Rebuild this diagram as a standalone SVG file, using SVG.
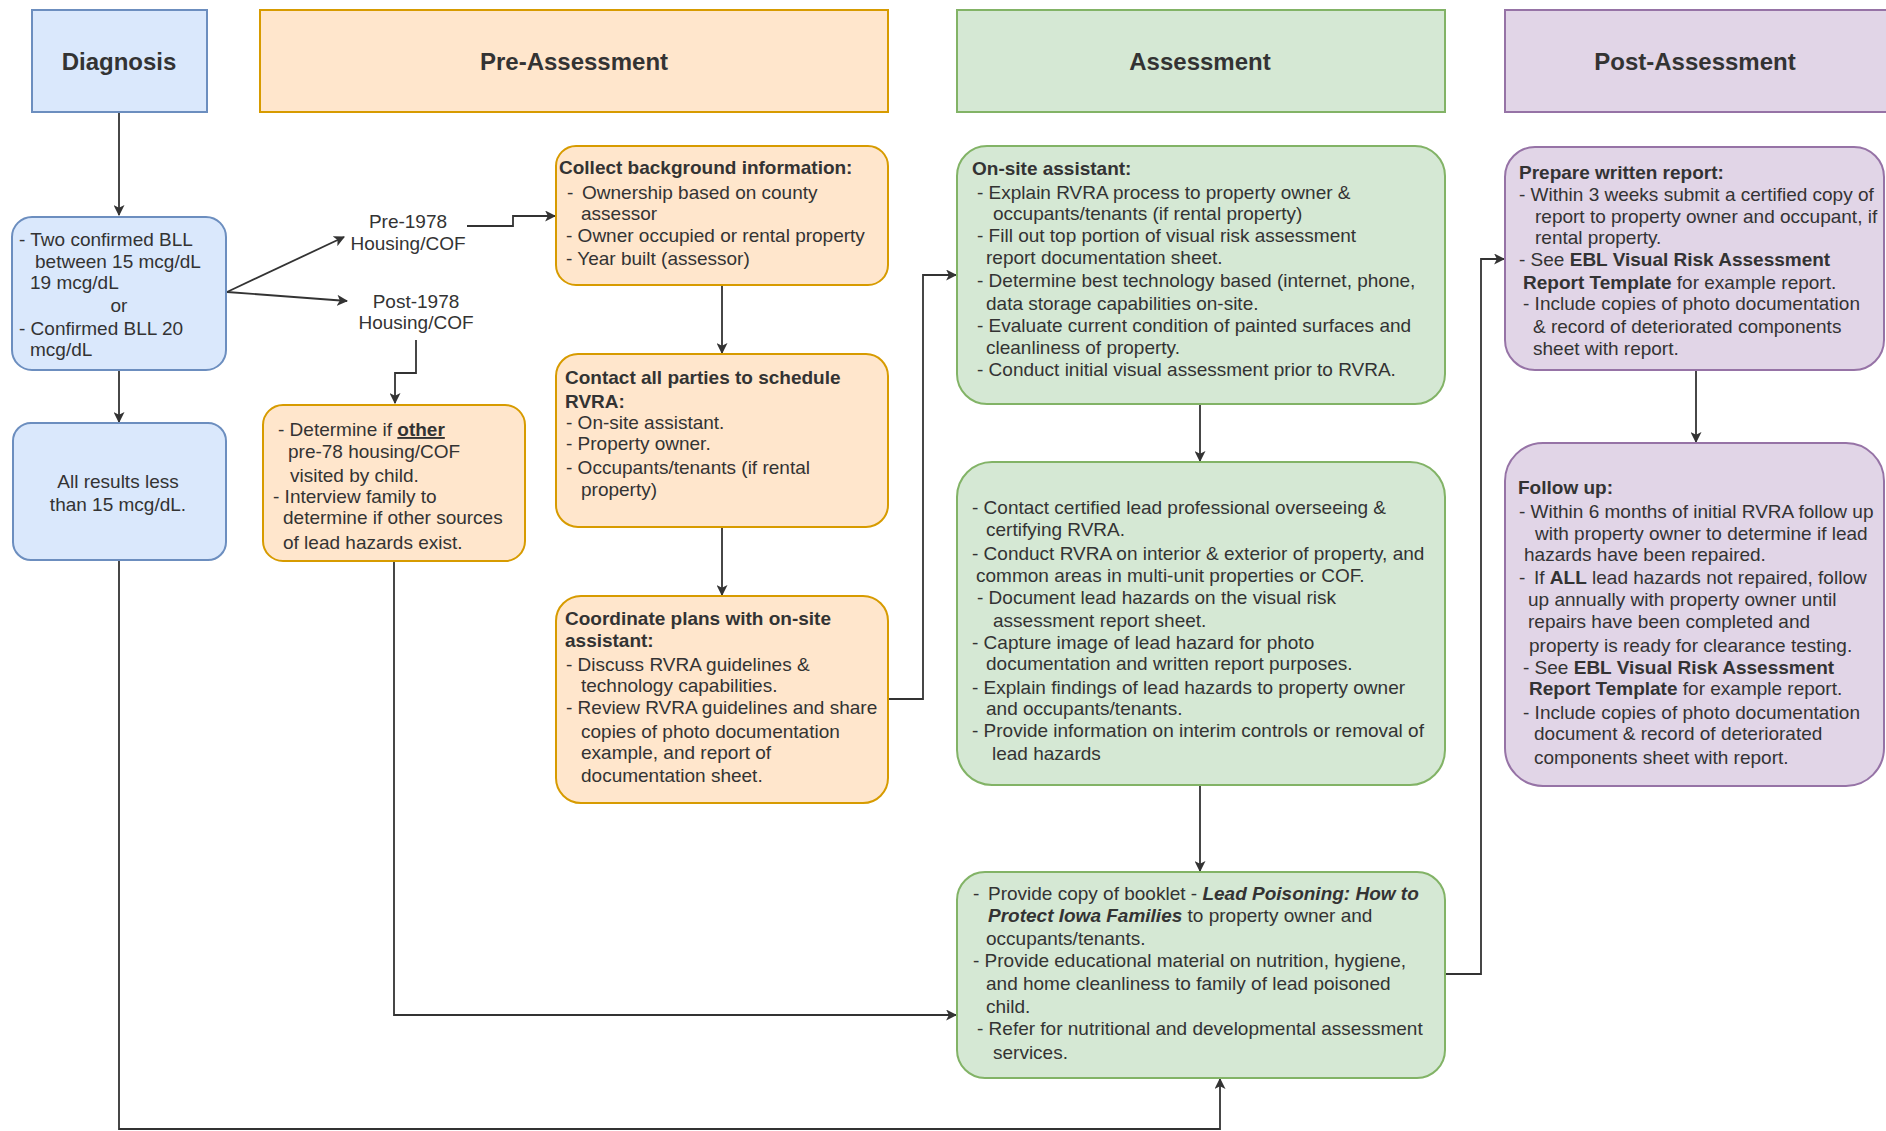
<svg xmlns="http://www.w3.org/2000/svg" width="1886" height="1131" viewBox="0 0 1886 1131">
<defs>
<style>
text{font-family:"Liberation Sans",Arial,sans-serif;fill:#333;}
.h{font-size:24px;font-weight:bold;text-anchor:middle;}
.t{font-size:19px;}
.b{font-weight:bold;}
.bi{font-weight:bold;font-style:italic;}
.u{text-decoration:underline;font-weight:bold;}
.m{text-anchor:middle;}
.blue{fill:#dae8fc;stroke:#6c8ebf;stroke-width:2;}
.orange{fill:#ffe6cc;stroke:#d79b00;stroke-width:2;}
.green{fill:#d5e8d4;stroke:#82b366;stroke-width:2;}
.purple{fill:#e1d5e7;stroke:#9673a6;stroke-width:2;}
.c{fill:none;stroke:#333;stroke-width:1.8;marker-end:url(#arr);}
</style>
<marker id="arr" viewBox="0 0 10 10" refX="9" refY="5" markerWidth="11" markerHeight="11" markerUnits="userSpaceOnUse" orient="auto">
<path d="M0,0 L10,5 L0,10 L2.5,5 z" fill="#333"/>
</marker>
</defs>
<rect width="1886" height="1131" fill="#fff"/>

<g id="connectors">
<path class="c" d="M119,112 V215"/>
<path class="c" d="M119,370 V422"/>
<path class="c" d="M227,292 L344,237"/>
<path class="c" d="M227,292 L347,301"/>
<path class="c" d="M467,226 H513 V216 H555"/>
<path class="c" d="M416,340 V373 H395 V403"/>
<path class="c" d="M722,285 V353"/>
<path class="c" d="M722,527 V595"/>
<path class="c" d="M888,699 H923 V275 H956"/>
<path class="c" d="M1200,404 V461"/>
<path class="c" d="M1200,785 V871"/>
<path class="c" d="M394,561 V1015 H956"/>
<path class="c" d="M119,560 V1129 H1220 V1079"/>
<path class="c" d="M1445,974 H1481 V259 H1504"/>
<path class="c" d="M1696,371 V442"/>
</g>

<g id="hdr-diagnosis"><rect class="blue" x="32" y="10" width="175" height="102"/><text class="h" x="119" y="70">Diagnosis</text></g>
<g id="hdr-pre"><rect class="orange" x="260" y="10" width="628" height="102"/><text class="h" x="574" y="70">Pre-Assessment</text></g>
<g id="hdr-assess"><rect class="green" x="957" y="10" width="488" height="102"/><text class="h" x="1200" y="70">Assessment</text></g>
<g id="hdr-post"><rect class="purple" x="1505" y="10" width="390" height="102"/><text class="h" x="1695" y="70">Post-Assessment</text></g>

<g id="node-bll"><rect class="blue" x="12" y="217" width="214" height="153" rx="20"/>
<text class="t"><tspan x="19" y="246">- Two confirmed BLL</tspan><tspan x="35" y="268">between 15 mcg/dL</tspan><tspan x="30" y="289">19 mcg/dL</tspan><tspan x="119" y="312" class="m">or</tspan><tspan x="19" y="335">- Confirmed BLL 20</tspan><tspan x="30" y="356">mcg/dL</tspan></text></g>

<g id="node-less"><rect class="blue" x="13" y="423" width="213" height="137" rx="18"/>
<text class="t m"><tspan x="118" y="488">All results less</tspan><tspan x="118" y="511">than 15 mcg/dL.</tspan></text></g>

<g id="label-pre1978"><text class="t m"><tspan x="408" y="228">Pre-1978</tspan><tspan x="408" y="250">Housing/COF</tspan></text></g>
<g id="label-post1978"><text class="t m"><tspan x="416" y="308">Post-1978</tspan><tspan x="416" y="329">Housing/COF</tspan></text></g>

<g id="node-determine"><rect class="orange" x="263" y="405" width="262" height="156" rx="20"/>
<text class="t"><tspan x="278" y="436">- Determine if <tspan class="u">other</tspan></tspan><tspan x="288" y="458">pre-78 housing/COF</tspan><tspan x="290" y="482">visited by child.</tspan><tspan x="273" y="503">- Interview family to</tspan><tspan x="283" y="524">determine if other sources</tspan><tspan x="283" y="549">of lead hazards exist.</tspan></text></g>

<g id="node-collect"><rect class="orange" x="556" y="146" width="332" height="139" rx="20"/>
<text class="t"><tspan x="559" y="174" class="b">Collect background information:</tspan><tspan x="567" y="199">-</tspan><tspan x="582" y="199">Ownership based on county</tspan><tspan x="581" y="220">assessor</tspan><tspan x="566" y="242">- Owner occupied or rental property</tspan><tspan x="566" y="265">- Year built (assessor)</tspan></text></g>

<g id="node-contact"><rect class="orange" x="556" y="354" width="332" height="173" rx="22"/>
<text class="t"><tspan x="565" y="384" class="b">Contact all parties to schedule</tspan><tspan x="565" y="408" class="b">RVRA:</tspan><tspan x="566" y="429">- On-site assistant.</tspan><tspan x="566" y="450">- Property owner.</tspan><tspan x="566" y="474">- Occupants/tenants (if rental</tspan><tspan x="581" y="496">property)</tspan></text></g>

<g id="node-coordinate"><rect class="orange" x="556" y="596" width="332" height="207" rx="25"/>
<text class="t"><tspan x="565" y="625" class="b">Coordinate plans with on-site</tspan><tspan x="565" y="647" class="b">assistant:</tspan><tspan x="566" y="671">- Discuss RVRA guidelines &amp;</tspan><tspan x="581" y="692">technology capabilities.</tspan><tspan x="566" y="714">- Review RVRA guidelines and share</tspan><tspan x="581" y="738">copies of photo documentation</tspan><tspan x="581" y="759">example, and report of</tspan><tspan x="581" y="782">documentation sheet.</tspan></text></g>

<g id="node-onsite"><rect class="green" x="957" y="146" width="488" height="258" rx="30"/>
<text class="t"><tspan x="972" y="175" class="b">On-site assistant:</tspan><tspan x="977" y="199">- Explain RVRA process to property owner &amp;</tspan><tspan x="993" y="220">occupants/tenants (if rental property)</tspan><tspan x="977" y="242">- Fill out top portion of visual risk assessment</tspan><tspan x="986" y="264">report documentation sheet.</tspan><tspan x="977" y="287">- Determine best technology based (internet, phone,</tspan><tspan x="986" y="310">data storage capabilities on-site.</tspan><tspan x="977" y="332">- Evaluate current condition of painted surfaces and</tspan><tspan x="986" y="354">cleanliness of property.</tspan><tspan x="977" y="376">- Conduct initial visual assessment prior to RVRA.</tspan></text></g>

<g id="node-conduct"><rect class="green" x="957" y="462" width="488" height="323" rx="35"/>
<text class="t"><tspan x="972" y="514">- Contact certified lead professional overseeing &amp;</tspan><tspan x="986" y="536">certifying RVRA.</tspan><tspan x="972" y="560">- Conduct RVRA on interior &amp; exterior of property, and</tspan><tspan x="976" y="582">common areas in multi-unit properties or COF.</tspan><tspan x="977" y="604">- Document lead hazards on the visual risk</tspan><tspan x="993" y="627">assessment report sheet.</tspan><tspan x="972" y="649">- Capture image of lead hazard for photo</tspan><tspan x="986" y="670">documentation and written report purposes.</tspan><tspan x="972" y="694">- Explain findings of lead hazards to property owner</tspan><tspan x="986" y="715">and occupants/tenants.</tspan><tspan x="972" y="737">- Provide information on interim controls or removal of</tspan><tspan x="992" y="760">lead hazards</tspan></text></g>

<g id="node-booklet"><rect class="green" x="957" y="872" width="488" height="206" rx="28"/>
<text class="t"><tspan x="973" y="900">-</tspan><tspan x="988" y="900">Provide copy of booklet - <tspan class="bi">Lead Poisoning: How to</tspan></tspan><tspan x="988" y="922"><tspan class="bi">Protect Iowa Families</tspan> to property owner and</tspan><tspan x="986" y="945">occupants/tenants.</tspan><tspan x="973" y="967">- Provide educational material on nutrition, hygiene,</tspan><tspan x="986" y="990">and home cleanliness to family of lead poisoned</tspan><tspan x="986" y="1013">child.</tspan><tspan x="977" y="1035">- Refer for nutritional and developmental assessment</tspan><tspan x="993" y="1059">services.</tspan></text></g>

<g id="node-report"><rect class="purple" x="1505" y="147" width="379" height="223" rx="30"/>
<text class="t"><tspan x="1519" y="179" class="b">Prepare written report:</tspan><tspan x="1519" y="201">- Within 3 weeks submit a certified copy of</tspan><tspan x="1535" y="223">report to property owner and occupant, if</tspan><tspan x="1535" y="244">rental property.</tspan><tspan x="1519" y="266">- See <tspan class="b">EBL Visual Risk Assessment</tspan></tspan><tspan x="1523" y="289"><tspan class="b">Report Template</tspan> for example report.</tspan><tspan x="1523" y="310">- Include copies of photo documentation</tspan><tspan x="1533" y="333">&amp; record of deteriorated components</tspan><tspan x="1533" y="355">sheet with report.</tspan></text></g>

<g id="node-followup"><rect class="purple" x="1505" y="443" width="379" height="343" rx="38"/>
<text class="t"><tspan x="1518" y="494" class="b">Follow up:</tspan><tspan x="1519" y="518">- Within 6 months of initial RVRA follow up</tspan><tspan x="1535" y="540">with property owner to determine if lead</tspan><tspan x="1524" y="561">hazards have been repaired.</tspan><tspan x="1519" y="584">-</tspan><tspan x="1534" y="584">If <tspan class="b">ALL</tspan> lead hazards not repaired, follow</tspan><tspan x="1528" y="606">up annually with property owner until</tspan><tspan x="1528" y="628">repairs have been completed and</tspan><tspan x="1529" y="652">property is ready for clearance testing.</tspan><tspan x="1523" y="674">- See <tspan class="b">EBL Visual Risk Assessment</tspan></tspan><tspan x="1529" y="695"><tspan class="b">Report Template</tspan> for example report.</tspan><tspan x="1523" y="719">- Include copies of photo documentation</tspan><tspan x="1534" y="740">document &amp; record of deteriorated</tspan><tspan x="1534" y="764">components sheet with report.</tspan></text></g>
</svg>
